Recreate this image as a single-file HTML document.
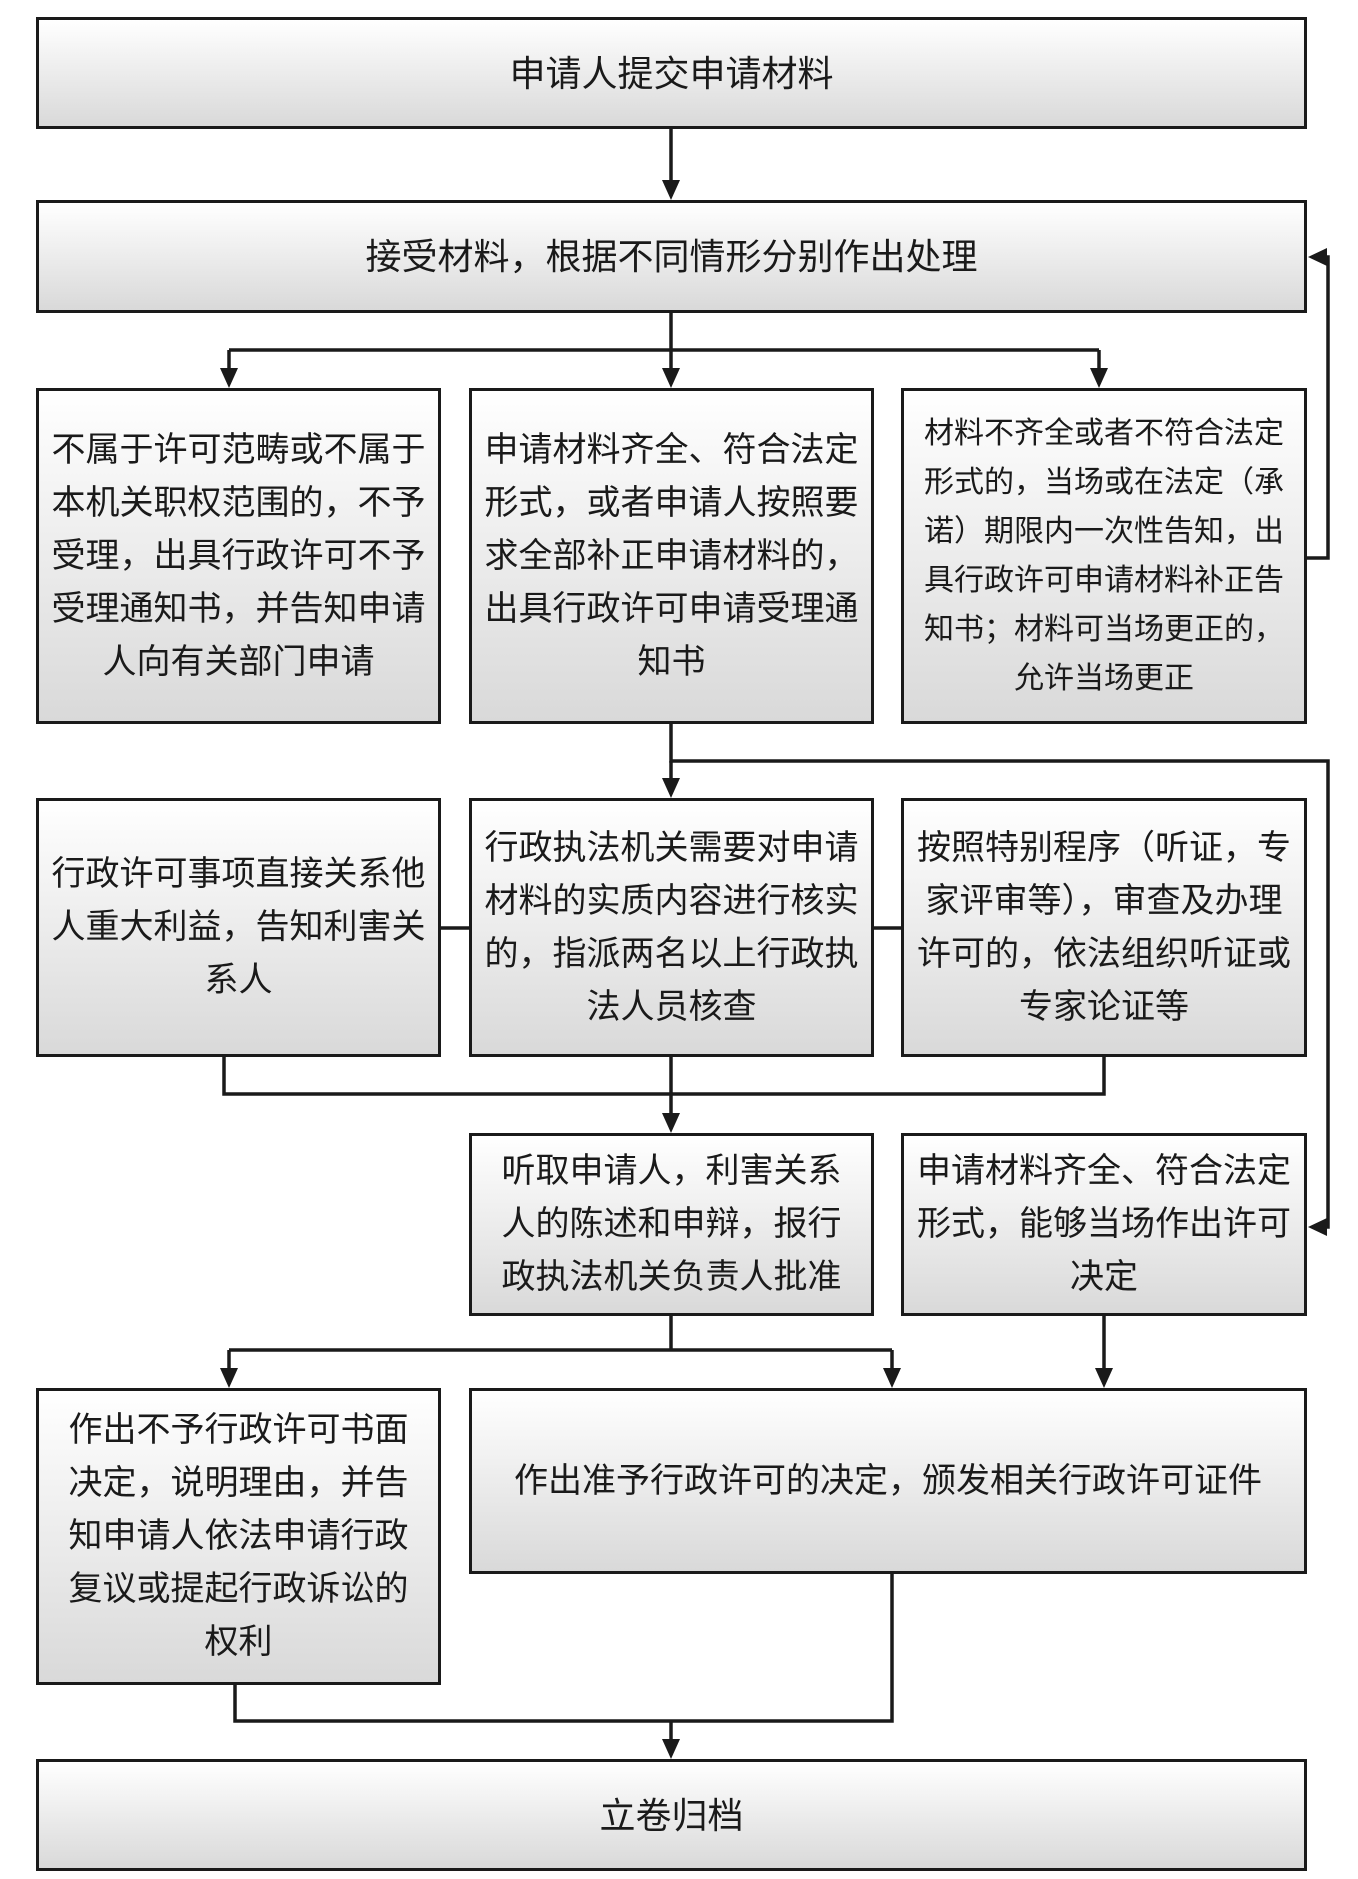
<!DOCTYPE html>
<html><head><meta charset="utf-8"><style>
html,body{margin:0;padding:0;background:#fff;}
body{width:1358px;height:1879px;position:relative;overflow:hidden;font-family:"Liberation Sans","Noto Sans CJK SC",sans-serif;color:#1a1a1a;}
.b{position:absolute;box-sizing:border-box;border:3.5px solid #1a1a1a;background:linear-gradient(#ffffff,#d9d9d9);display:flex;align-items:center;justify-content:center;text-align:center;font-size:34px;line-height:53px;white-space:nowrap;}
svg{position:absolute;left:0;top:0;}
</style></head><body>
<svg width="1358" height="1879" viewBox="0 0 1358 1879">
<g stroke="#1a1a1a" stroke-width="3.5" fill="none">
<line x1="671" y1="129" x2="671" y2="185"/>
<line x1="671" y1="313" x2="671" y2="350"/>
<line x1="229" y1="350" x2="1099" y2="350"/>
<line x1="229" y1="350" x2="229" y2="375"/>
<line x1="671" y1="350" x2="671" y2="375"/>
<line x1="1099" y1="350" x2="1099" y2="375"/>
<path d="M1307,558 L1328,558 L1328,257 L1320,257"/>
<path d="M671,724 L671,761 L1328,761 L1328,1227 L1320,1227"/>
<line x1="671" y1="761" x2="671" y2="785"/>
<line x1="441" y1="928" x2="469" y2="928"/>
<line x1="874" y1="928" x2="901" y2="928"/>
<path d="M224,1057 L224,1094 L1104,1094 L1104,1057"/>
<line x1="671" y1="1057" x2="671" y2="1120"/>
<line x1="671" y1="1316" x2="671" y2="1350"/>
<line x1="229" y1="1350" x2="892" y2="1350"/>
<line x1="229" y1="1350" x2="229" y2="1375"/>
<line x1="892" y1="1350" x2="892" y2="1375"/>
<line x1="1104" y1="1316" x2="1104" y2="1375"/>
<path d="M235,1685 L235,1721 L892,1721 L892,1574"/>
<line x1="671" y1="1721" x2="671" y2="1745"/>
</g>
<g fill="#1a1a1a">
<path d="M662,180 L671,200 L680,180 z"/>
<path d="M220,368 L229,388 L238,368 z"/>
<path d="M662,368 L671,388 L680,368 z"/>
<path d="M1090,368 L1099,388 L1108,368 z"/>
<path d="M1327,248 L1308,257 L1327,266 z"/>
<path d="M1327,1218 L1308,1227 L1327,1236 z"/>
<path d="M662,778 L671,798 L680,778 z"/>
<path d="M662,1113 L671,1133 L680,1113 z"/>
<path d="M220,1368 L229,1388 L238,1368 z"/>
<path d="M883,1368 L892,1388 L901,1368 z"/>
<path d="M1095,1368 L1104,1388 L1113,1368 z"/>
<path d="M662,1739 L671,1759 L680,1739 z"/>
</g>
</svg>
<div class="b" style="left:36px;top:17px;width:1271px;height:112px;font-size:36px;">申请人提交申请材料</div>
<div class="b" style="left:36px;top:200px;width:1271px;height:113px;font-size:36px;">接受材料，根据不同情形分别作出处理</div>
<div class="b" style="left:36px;top:388px;width:405px;height:336px;">不属于许可范畴或不属于<br>本机关职权范围的，不予<br>受理，出具行政许可不予<br>受理通知书，并告知申请<br>人向有关部门申请</div>
<div class="b" style="left:469px;top:388px;width:405px;height:336px;">申请材料齐全、符合法定<br>形式，或者申请人按照要<br>求全部补正申请材料的，<br>出具行政许可申请受理通<br>知书</div>
<div class="b" style="left:901px;top:388px;width:406px;height:336px;line-height:49px;font-size:30px;">材料不齐全或者不符合法定<br>形式的，当场或在法定（承<br>诺）期限内一次性告知，出<br>具行政许可申请材料补正告<br>知书；材料可当场更正的，<br>允许当场更正</div>
<div class="b" style="left:36px;top:798px;width:405px;height:259px;">行政许可事项直接关系他<br>人重大利益，告知利害关<br>系人</div>
<div class="b" style="left:469px;top:798px;width:405px;height:259px;">行政执法机关需要对申请<br>材料的实质内容进行核实<br>的，指派两名以上行政执<br>法人员核查</div>
<div class="b" style="left:901px;top:798px;width:406px;height:259px;">按照特别程序（听证，专<br>家评审等），审查及办理<br>许可的，依法组织听证或<br>专家论证等</div>
<div class="b" style="left:469px;top:1133px;width:405px;height:183px;">听取申请人，利害关系<br>人的陈述和申辩，报行<br>政执法机关负责人批准</div>
<div class="b" style="left:901px;top:1133px;width:406px;height:183px;">申请材料齐全、符合法定<br>形式，能够当场作出许可<br>决定</div>
<div class="b" style="left:36px;top:1388px;width:405px;height:297px;">作出不予行政许可书面<br>决定，说明理由，并告<br>知申请人依法申请行政<br>复议或提起行政诉讼的<br>权利</div>
<div class="b" style="left:469px;top:1388px;width:838px;height:186px;">作出准予行政许可的决定，颁发相关行政许可证件</div>
<div class="b" style="left:36px;top:1759px;width:1271px;height:112px;font-size:36px;">立卷归档</div>
</body></html>
